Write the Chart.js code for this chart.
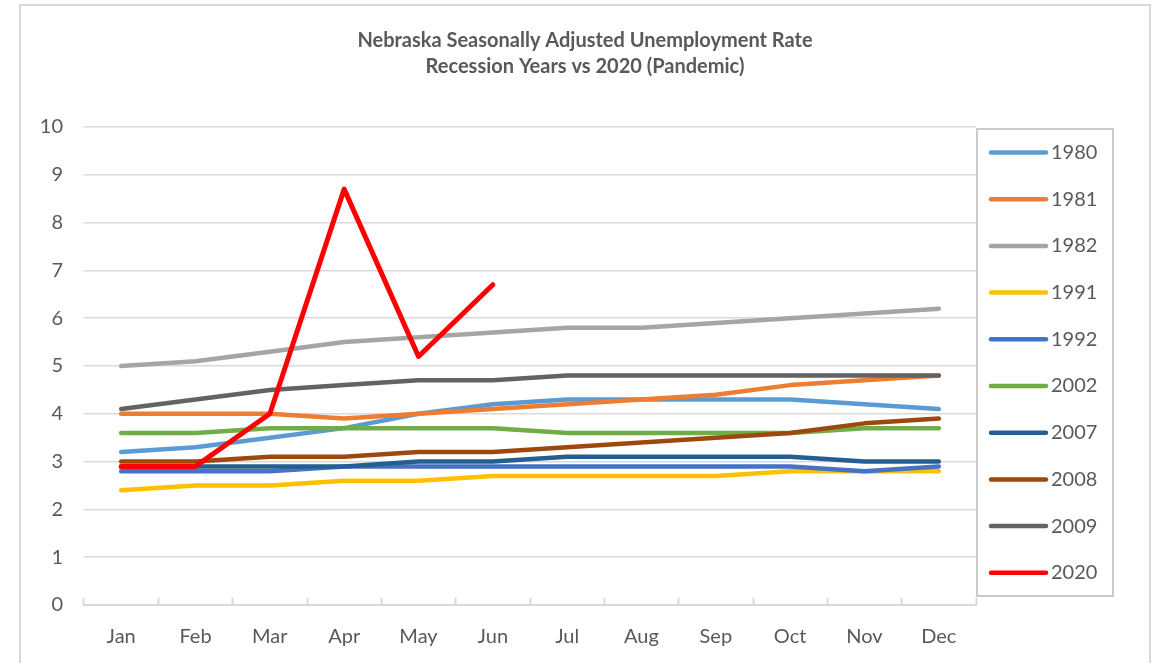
<!DOCTYPE html>
<html>
<head>
<meta charset="utf-8">
<title>Nebraska Unemployment</title>
<script src="https://cdn.jsdelivr.net/npm/chart.js@4.4.1/dist/chart.umd.min.js"></script>
<style>
  html, body { margin: 0; padding: 0; background: #fff; }
  body { width: 1158px; height: 663px; overflow: hidden; position: relative; }
  #frame { position: absolute; left: 19px; top: 4px; width: 1128px; height: 700px; border: 2px solid #d9d9d9; }
  #wrap { position: absolute; left: 0; top: 0; width: 1158px; height: 663px; }
</style>
</head>
<body>
<div id="frame"></div>
<div id="wrap"><canvas id="lineChart" width="1158" height="663"></canvas></div>
<script>
// Mois (axe X)
const months = ['Jan', 'Feb', 'Mar', 'Apr', 'May', 'Jun', 'Jul', 'Aug', 'Sep', 'Oct', 'Nov', 'Dec'];

// Taux de chômage par année
const y1980 = [3.2, 3.3, 3.5, 3.7, 4.0, 4.2, 4.3, 4.3, 4.3, 4.3, 4.2, 4.1];
const y1981 = [4.0, 4.0, 4.0, 3.9, 4.0, 4.1, 4.2, 4.3, 4.4, 4.6, 4.7, 4.8];
const y1982 = [5.0, 5.1, 5.3, 5.5, 5.6, 5.7, 5.8, 5.8, 5.9, 6.0, 6.1, 6.2];
const y1991 = [2.4, 2.5, 2.5, 2.6, 2.6, 2.7, 2.7, 2.7, 2.7, 2.8, 2.8, 2.8];
const y1992 = [2.8, 2.8, 2.8, 2.9, 2.9, 2.9, 2.9, 2.9, 2.9, 2.9, 2.8, 2.9];
const y2002 = [3.6, 3.6, 3.7, 3.7, 3.7, 3.7, 3.6, 3.6, 3.6, 3.6, 3.7, 3.7];
const y2007 = [2.9, 2.9, 2.9, 2.9, 3.0, 3.0, 3.1, 3.1, 3.1, 3.1, 3.0, 3.0];
const y2008 = [3.0, 3.0, 3.1, 3.1, 3.2, 3.2, 3.3, 3.4, 3.5, 3.6, 3.8, 3.9];
const y2009 = [4.1, 4.3, 4.5, 4.6, 4.7, 4.7, 4.8, 4.8, 4.8, 4.8, 4.8, 4.8];
const y2020 = [2.9, 2.9, 4.0, 8.7, 5.2, 6.7];

const years = ['1980', '1981', '1982', '1991', '1992', '2002', '2007', '2008', '2009', '2020'];
const series = [y1980, y1981, y1982, y1991, y1992, y2002, y2007, y2008, y2009, y2020];
const colors = ['#5B9BD5', '#ED7D31', '#A5A5A5', '#FFC000', '#4472C4', '#70AD47', '#255E91', '#9E480E', '#636363', '#FF0000'];

const yTicks = [0, 1, 2, 3, 4, 5, 6, 7, 8, 9, 10];

const textColor = '#595959';
const gridColor = '#d9d9d9';

// Légende encadrée à droite (comme dans Excel)
const legendBox = {
    id: 'legendBox',
    afterDraw(chart) {
        const ctx = chart.ctx;
        const left = chart.chartArea.right + 1;
        const top = chart.chartArea.top + 2;
        ctx.save();
        ctx.strokeStyle = '#cacaca';
        ctx.lineWidth = 2;
        ctx.strokeRect(left, top, 136, 467);
        chart.data.datasets.forEach((ds, i) => {
            const y = top + 23.5 + i * 46.7;
            ctx.strokeStyle = ds.borderColor;
            ctx.lineWidth = 4.5;
            ctx.lineCap = 'round';
            ctx.beginPath();
            ctx.moveTo(left + 14, y);
            ctx.lineTo(left + 69, y);
            ctx.stroke();
            ctx.fillStyle = textColor;
            ctx.font = '20px Lato';
            ctx.textBaseline = 'middle';
            ctx.textAlign = 'left';
            ctx.fillText(ds.label, left + 74, y);
        });
        ctx.restore();
    }
};

const ctx = document.getElementById('lineChart').getContext('2d');

const lineChart = new Chart(ctx, {
    type: 'line',
    data: {
        labels: months,
        datasets: years.map((yr, i) => ({
            label: yr,
            data: series[i],
            borderColor: colors[i],
            backgroundColor: colors[i],
            borderWidth: yr === '2020' ? 5 : 4.5,
            pointRadius: 0,
            pointHoverRadius: 0,
            tension: 0,
            fill: false,
            borderJoinStyle: 'round',
            borderCapStyle: 'round',
            yAxisID: 'y',
            order: years.length - i   // les séries suivantes passent au-dessus
        }))
    },
    options: {
        responsive: false,
        animation: false,
        devicePixelRatio: 1,
        layout: { padding: { left: 12, top: 0, right: 0, bottom: 0 } },
        plugins: {
            legend: { display: false },
            tooltip: { enabled: false },
            title: {
                display: true,
                text: ['Nebraska Seasonally Adjusted Unemployment Rate', 'Recession Years vs 2020 (Pandemic)'],
                color: textColor,
                font: { family: 'Lato', size: 20, weight: 'bold', lineHeight: 1.33 },
                padding: { top: 27, bottom: 46.8 }
            }
        },
        scales: {
            x: {
                offset: true,
                grid: {
                    offset: true,
                    drawOnChartArea: false,
                    drawTicks: true,
                    tickLength: -7,
                    tickColor: gridColor,
                    tickWidth: 2
                },
                border: { display: true, color: gridColor, width: 2 },
                ticks: {
                    color: textColor,
                    font: { family: 'Lato', size: 20 },
                    padding: 27,
                    maxRotation: 0,
                    autoSkip: false
                },
                afterFit: s => { s.height = 58; }
            },
            y: {
                min: 0,
                max: 10,
                afterBuildTicks: s => { s.ticks = yTicks.map(v => ({ value: v })); },
                grid: { color: gridColor, lineWidth: 1.5, drawTicks: false },
                border: { display: false },
                ticks: {
                    color: textColor,
                    font: { family: 'Lato', size: 20 },
                    padding: 21
                },
                afterFit: s => { s.width = 72; }
            },
            // espace réservé à droite pour la légende
            yRight: {
                position: 'right',
                min: 0,
                max: 10,
                grid: { display: false, drawTicks: false },
                border: { display: false },
                ticks: { display: false },
                afterFit: s => { s.width = 182; }
            }
        }
    },
    plugins: [legendBox]
});
</script>
</body>
</html>
